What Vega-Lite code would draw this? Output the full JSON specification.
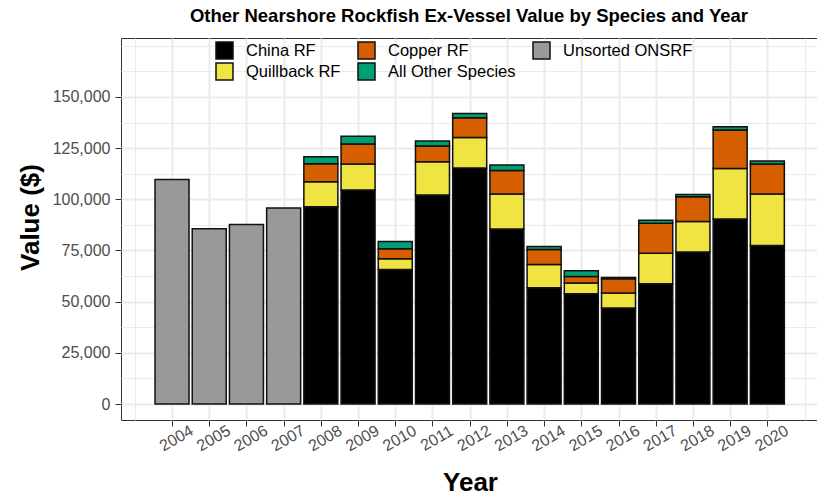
{
  "$schema": "https://vega.github.io/schema/vega-lite/v6.json",
  "width": 696,
  "height": 382,
  "autosize": "none",
  "padding": {"left": 121, "top": 38, "right": 0, "bottom": 76},
  "background": "white",
  "config": {
    "font": "Liberation Sans",
    "view": {"stroke": "#333333", "strokeWidth": 1}
  },
  "title": {
    "text": "Other Nearshore Rockfish Ex-Vessel Value by Species and Year",
    "fontSize": 18.5,
    "fontWeight": "bold",
    "font": "Liberation Sans",
    "color": "#000000",
    "anchor": "middle",
    "offset": 12
  },
  "data": {
    "values": [
      {"year": 2004, "species": "Unsorted ONSRF", "value": 109700},
      {"year": 2005, "species": "Unsorted ONSRF", "value": 85600},
      {"year": 2006, "species": "Unsorted ONSRF", "value": 87700},
      {"year": 2007, "species": "Unsorted ONSRF", "value": 95800},
      {"year": 2008, "species": "China RF", "value": 96400},
      {"year": 2008, "species": "Quillback RF", "value": 12200},
      {"year": 2008, "species": "Copper RF", "value": 8800},
      {"year": 2008, "species": "All Other Species", "value": 3400},
      {"year": 2009, "species": "China RF", "value": 104600},
      {"year": 2009, "species": "Quillback RF", "value": 12600},
      {"year": 2009, "species": "Copper RF", "value": 9800},
      {"year": 2009, "species": "All Other Species", "value": 3800},
      {"year": 2010, "species": "China RF", "value": 65700},
      {"year": 2010, "species": "Quillback RF", "value": 5300},
      {"year": 2010, "species": "Copper RF", "value": 4800},
      {"year": 2010, "species": "All Other Species", "value": 3600},
      {"year": 2011, "species": "China RF", "value": 102100},
      {"year": 2011, "species": "Quillback RF", "value": 16200},
      {"year": 2011, "species": "Copper RF", "value": 7800},
      {"year": 2011, "species": "All Other Species", "value": 2400},
      {"year": 2012, "species": "China RF", "value": 115300},
      {"year": 2012, "species": "Quillback RF", "value": 14900},
      {"year": 2012, "species": "Copper RF", "value": 9700},
      {"year": 2012, "species": "All Other Species", "value": 2000},
      {"year": 2013, "species": "China RF", "value": 85500},
      {"year": 2013, "species": "Quillback RF", "value": 17100},
      {"year": 2013, "species": "Copper RF", "value": 11500},
      {"year": 2013, "species": "All Other Species", "value": 2600},
      {"year": 2014, "species": "China RF", "value": 56800},
      {"year": 2014, "species": "Quillback RF", "value": 11400},
      {"year": 2014, "species": "Copper RF", "value": 7300},
      {"year": 2014, "species": "All Other Species", "value": 1400},
      {"year": 2015, "species": "China RF", "value": 53900},
      {"year": 2015, "species": "Quillback RF", "value": 5200},
      {"year": 2015, "species": "Copper RF", "value": 3200},
      {"year": 2015, "species": "All Other Species", "value": 2800},
      {"year": 2016, "species": "China RF", "value": 46900},
      {"year": 2016, "species": "Quillback RF", "value": 7300},
      {"year": 2016, "species": "Copper RF", "value": 7000},
      {"year": 2016, "species": "All Other Species", "value": 600},
      {"year": 2017, "species": "China RF", "value": 58800},
      {"year": 2017, "species": "Quillback RF", "value": 14900},
      {"year": 2017, "species": "Copper RF", "value": 14600},
      {"year": 2017, "species": "All Other Species", "value": 1500},
      {"year": 2018, "species": "China RF", "value": 74200},
      {"year": 2018, "species": "Quillback RF", "value": 14900},
      {"year": 2018, "species": "Copper RF", "value": 12200},
      {"year": 2018, "species": "All Other Species", "value": 1100},
      {"year": 2019, "species": "China RF", "value": 90400},
      {"year": 2019, "species": "Quillback RF", "value": 24700},
      {"year": 2019, "species": "Copper RF", "value": 18700},
      {"year": 2019, "species": "All Other Species", "value": 1600},
      {"year": 2020, "species": "China RF", "value": 77400},
      {"year": 2020, "species": "Quillback RF", "value": 25200},
      {"year": 2020, "species": "Copper RF", "value": 14600},
      {"year": 2020, "species": "All Other Species", "value": 1500}
    ]
  },
  "transform": [
    {"calculate": "indexof(['China RF', 'Quillback RF', 'Copper RF', 'All Other Species', 'Unsorted ONSRF'], datum.species)", "as": "stack_order"}
  ],
  "mark": {"type": "bar", "size": 34, "stroke": "#111111", "strokeWidth": 1.5},
  "encoding": {
    "x": {
      "field": "year",
      "type": "quantitative",
      "scale": {"domain": [2002.763, 2021.2], "nice": false, "zero": false},
      "axis": {
        "title": "Year",
        "titleFontSize": 26,
        "titleFontWeight": "bold",
        "titleColor": "#000000",
        "titleX": 349,
        "titleY": 70,
        "titleBaseline": "alphabetic",
        "titleAlign": "center",
        "values": [2002.5, 2003, 2003.5, 2004, 2004.5, 2005, 2005.5, 2006, 2006.5, 2007, 2007.5, 2008, 2008.5, 2009, 2009.5, 2010, 2010.5, 2011, 2011.5, 2012, 2012.5, 2013, 2013.5, 2014, 2014.5, 2015, 2015.5, 2016, 2016.5, 2017, 2017.5, 2018, 2018.5, 2019, 2019.5, 2020, 2020.5, 2021, 2021.5],
        "format": "d",
        "labelExpr": "(datum.value % 1 === 0 && datum.value >= 2004 && datum.value <= 2020) ? datum.label : ''",
        "labelFontSize": 16,
        "labelColor": "#4D4D4D",
        "labelAngle": -30,
        "labelAlign": "center",
        "labelBaseline": "top",
        "labelPadding": 5,
        "labelOverlap": false,
        "labelFlush": false,
        "domain": false,
        "tickSize": 6,
        "tickColor": "#333333",
        "tickWidth": 1,
        "tickOpacity": {"condition": {"test": "datum.value % 1 === 0 && datum.value >= 2004 && datum.value <= 2020", "value": 1}, "value": 0},
        "grid": true,
        "gridColor": "#EBEBEB",
        "gridWidth": {"condition": {"test": "datum.value % 1 === 0 && datum.value >= 2004 && datum.value <= 2020", "value": 2}, "value": 1}
      }
    },
    "y": {
      "field": "value",
      "type": "quantitative",
      "aggregate": "sum",
      "stack": "zero",
      "scale": {"domain": [-7810, 178800], "nice": false, "zero": false},
      "axis": {
        "title": "Value ($)",
        "titleFontSize": 26,
        "titleFontWeight": "bold",
        "titleColor": "#000000",
        "titleX": -91,
        "titleY": 179,
        "titleAngle": -90,
        "titleBaseline": "middle",
        "titleAlign": "center",
        "values": [0, 12500, 25000, 37500, 50000, 62500, 75000, 87500, 100000, 112500, 125000, 137500, 150000, 162500, 175000],
        "format": ",d",
        "labelExpr": "(datum.value % 25000 === 0 && datum.value <= 150000) ? datum.label : ''",
        "labelFontSize": 16,
        "labelColor": "#4D4D4D",
        "labelPadding": 5,
        "labelOverlap": false,
        "labelFlush": false,
        "domain": false,
        "tickSize": 6,
        "tickColor": "#333333",
        "tickWidth": 1,
        "tickOpacity": {"condition": {"test": "datum.value % 25000 === 0 && datum.value <= 150000", "value": 1}, "value": 0},
        "grid": true,
        "gridColor": "#EBEBEB",
        "gridWidth": {"condition": {"test": "datum.value % 25000 === 0 && datum.value <= 150000", "value": 2}, "value": 1}
      }
    },
    "order": {"field": "stack_order", "type": "quantitative", "sort": "ascending"},
    "color": {
      "field": "species",
      "type": "nominal",
      "scale": {
        "domain": ["China RF", "Quillback RF", "Copper RF", "All Other Species", "Unsorted ONSRF"],
        "range": ["#000000", "#F0E442", "#D55E00", "#009E73", "#999999"]
      },
      "legend": {
        "title": null,
        "orient": "none",
        "legendX": 94,
        "legendY": 3,
        "direction": "horizontal",
        "columns": 3,
        "values": ["China RF", "Copper RF", "Unsorted ONSRF", "Quillback RF", "All Other Species"],
        "symbolType": "square",
        "symbolSize": 289,
        "symbolStrokeColor": "#111111",
        "symbolStrokeWidth": 1.5,
        "symbolOpacity": 1,
        "labelFontSize": 16.5,
        "labelColor": "#000000",
        "labelOffset": 12,
        "columnPadding": 14,
        "rowPadding": -10,
        "padding": 0,
        "labelLimit": 300
      }
    }
  }
}
